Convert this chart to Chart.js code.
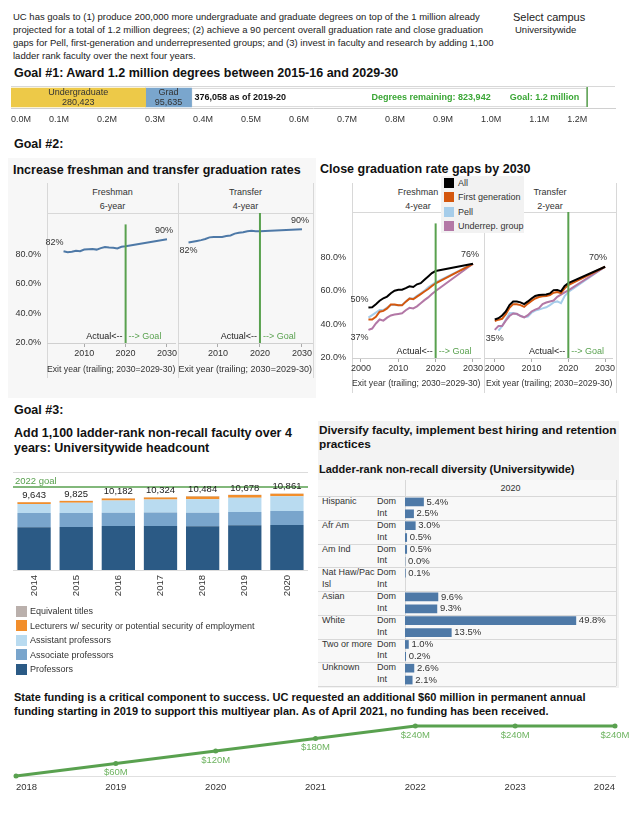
<!DOCTYPE html>
<html>
<head>
<meta charset="utf-8">
<script src="https://cdn.jsdelivr.net/npm/chart.js@4.4.1/dist/chart.umd.min.js"></script>
<style>
  body { margin: 0; background: #fff; font-family: "Liberation Sans", Arial, sans-serif; color: #222; }
  #page { position: relative; width: 632px; height: 822px; overflow: hidden; }
  .t { position: absolute; white-space: nowrap; }
  .h { font-weight: bold; font-size: 12.5px; line-height: 16px; color: #111; }
  .sub { font-weight: bold; font-size: 12.5px; line-height: 15px; color: #111; }
  .s { font-size: 9px; line-height: 12px; color: #333; }
  .c { text-align: center; }
  .ln { position: absolute; background: #d8d8d8; }
  .sw { position: absolute; width: 11px; height: 11px; }
  canvas { position: absolute; }
</style>
</head>
<body>
<div id="page">
  <div style="position:absolute;left:8px;top:158px;width:308px;height:240px;background:#f7f7f7"></div>

  <div class="t" style="left:13px;top:10px;font-size:9.5px;line-height:13px;color:#222">UC has goals to (1) produce 200,000 more undergraduate and graduate degrees on top of the 1 million already<br>projected for a total of 1.2 million degrees; (2) achieve a 90 percent overall graduation rate and close graduation<br>gaps for Pell, first-generation and underrepresented groups; and (3) invest in faculty and research by adding 1,100<br>ladder rank faculty over the next four years.</div>
  <div class="t" style="left:513px;top:10px;font-size:11px;line-height:14px;color:#222">Select campus</div>
  <div class="t" style="left:515px;top:23px;font-size:9.5px;line-height:13px;color:#222">Universitywide</div>

  <div class="t h" style="left:14px;top:65px">Goal #1: Award 1.2 million degrees between 2015-16 and 2029-30</div>
  <canvas id="g1" width="632" height="44" style="left:0;top:85px"></canvas>

  <div class="t h" style="left:14px;top:136px">Goal #2:</div>
  <div class="t sub" style="left:13px;top:163px">Increase freshman and transfer graduation rates</div>
  <div class="t sub" style="left:320px;top:162px">Close graduation rate gaps by 2030</div>

  <!-- left panel frame -->
  <div class="ln" style="left:47px;top:183px;width:1px;height:195px"></div>
  <div class="ln" style="left:178px;top:183px;width:1px;height:195px"></div>
  <div class="ln" style="left:313px;top:183px;width:1px;height:195px"></div>
  <div class="ln" style="left:47px;top:213px;width:267px;height:1px"></div>
  <div class="t s c" style="left:47px;top:186px;width:131px">Freshman</div>
  <div class="t s c" style="left:47px;top:200px;width:131px">6-year</div>
  <div class="t s c" style="left:178px;top:186px;width:135px">Transfer</div>
  <div class="t s c" style="left:178px;top:200px;width:135px">4-year</div>
  <canvas id="fr6" width="170" height="167" style="left:8px;top:213px"></canvas>
  <canvas id="tr4" width="135" height="167" style="left:178px;top:213px"></canvas>

  <!-- right panel frame -->
  <div class="ln" style="left:352px;top:183px;width:1px;height:210px"></div>
  <div class="ln" style="left:484px;top:183px;width:1px;height:210px"></div>
  <div class="ln" style="left:616px;top:183px;width:1px;height:210px"></div>
  <div class="ln" style="left:352px;top:212px;width:265px;height:1px"></div>
  <div class="t s c" style="left:352px;top:186px;width:132px">Freshman</div>
  <div class="t s c" style="left:352px;top:200px;width:132px">4-year</div>
  <div class="t s c" style="left:484px;top:186px;width:132px">Transfer</div>
  <div class="t s c" style="left:484px;top:200px;width:132px">2-year</div>
  <canvas id="fr4" width="168" height="181" style="left:316px;top:212px"></canvas>
  <canvas id="tr2" width="132" height="181" style="left:484px;top:212px"></canvas>
  <div id="gapLegend" style="position:absolute;left:441px;top:176px;width:83px;height:57px;background:#f2f2f2"></div>

  <div class="t h" style="left:14px;top:402px">Goal #3:</div>
  <div class="t sub" style="left:14px;top:426px">Add 1,100 ladder-rank non-recall faculty over 4<br>years: Universitywide headcount</div>
  <canvas id="fac" width="295" height="135" style="left:13px;top:472px"></canvas>
  <div id="facLegend"></div>

  <div style="position:absolute;left:318px;top:421px;width:301px;height:267px;background:#f3f3f3"></div>
  <div class="t" style="left:319px;top:424px;font-weight:bold;font-size:11.8px;line-height:13.5px;color:#111">Diversify faculty, implement best hiring and retention<br>practices</div>
  <div class="t" style="left:319px;top:462px;font-weight:bold;font-size:11px;line-height:14px;color:#111">Ladder-rank non-recall diversity (Universitywide)</div>
  <div style="position:absolute;left:318px;top:480px;width:298px;height:206px;background:#f8f8f8"></div>
  <div class="ln" style="left:405px;top:480px;width:1px;height:206px"></div>
  <div class="ln" style="left:616px;top:480px;width:1px;height:206px"></div>
  <div class="t s c" style="left:405px;top:482px;width:211px">2020</div>
  <div id="divRows"></div>
  <canvas id="div" width="211" height="190" style="left:405px;top:496px"></canvas>

  <div class="t" style="left:14px;top:690px;font-weight:bold;font-size:11px;line-height:14px;color:#111">State funding is a critical component to success. UC requested an additional $60 million in permanent annual<br>funding starting in 2019 to support this multiyear plan. As of April 2021, no funding has been received.</div>
  <canvas id="fund" width="632" height="82" style="left:0;top:718px"></canvas>
</div>

<script>
// ---- Goal 1: degrees
const degreeTypes = ["Undergraduate", "Grad"];
const degreeValues = [280423, 95635];
const degreesGoal = 1200000;
const degreeTicks = [0, 100000, 200000, 300000, 400000, 500000, 600000, 700000, 800000, 900000, 1000000, 1100000, 1200000];

// ---- Goal 2: graduation rates (exit year, percent)
const fr6Years = [2005, 2006, 2007, 2008, 2009, 2010, 2011, 2012, 2013, 2014, 2015, 2016, 2017, 2018, 2019, 2020, 2030];
const fr6Rate = [81.9, 81.2, 81.6, 82.2, 81.9, 83.0, 83.3, 83.4, 83.0, 84.0, 84.8, 84.4, 84.2, 83.8, 84.9, 85.3, 90];
const tr4Years = [2003, 2004, 2005, 2006, 2007, 2008, 2009, 2010, 2011, 2012, 2013, 2014, 2015, 2016, 2017, 2018, 2019, 2020, 2030];
const tr4Rate = [81.8, 82.3, 82.8, 83.3, 84.0, 85.0, 85.3, 85.3, 85.3, 85.8, 86.2, 87.3, 87.8, 88.2, 88.8, 89.0, 88.7, 88.7, 90];

const fr4Years = [2002, 2003, 2004, 2005, 2006, 2007, 2008, 2009, 2010, 2011, 2012, 2013, 2014, 2015, 2016, 2017, 2018, 2019, 2020, 2030];
const fr4All = [50, 50.2, 52, 54, 55.5, 56.5, 58.5, 60, 60.6, 60.6, 61.5, 62.6, 62.2, 63.8, 64.5, 66.5, 68.5, 70.5, 71.7, 76];
const fr4FirstGen = [42.9, 42.9, 44.5, 47.5, 48.0, 49.5, 51.8, 51.8, 51.3, 51.3, 53.5, 55.3, 54.9, 56.5, 58.0, 59.5, 61, 62.8, 64.4, 76];
const fr4Pell = [44.0, 45.5, 47, 48.5, 48.5, 50, 51.5, 51.5, 51.3, 51.5, 53.5, 55.5, 55.3, 57, 58.5, 60, 62, 63.5, 65, 76];
const fr4Urg = [36.7, 37.5, 40.5, 42.9, 42.2, 44.0, 45.3, 45.8, 46.2, 46.6, 48.4, 49.8, 49.5, 50.7, 52.6, 54.4, 56, 58, 59.8, 76];

const tr2Years = [2000, 2001, 2002, 2003, 2004, 2005, 2006, 2007, 2008, 2009, 2010, 2011, 2012, 2013, 2014, 2015, 2016, 2017, 2018, 2019, 2020, 2030];
const tr2All = [41.1, 41.8, 43.3, 45.5, 49, 51, 51, 50.5, 49.5, 51, 52.6, 54, 54.5, 54.7, 54.8, 55.4, 57.2, 57.3, 56.5, 59.5, 61, 70];
const tr2FirstGen = [40.3, 41, 41.5, 44, 47.5, 49.5, 49.5, 49, 48, 49.8, 51.3, 52.6, 53.4, 53.8, 54, 54.5, 55.8, 56.2, 55.6, 58.2, 60, 70];
const tr2Urg = [35.4, 37.5, 37.5, 40.5, 43, 44.4, 44.2, 43, 42.3, 43.5, 45.5, 46.5, 47.3, 49.5, 50.4, 51, 51.5, 53.5, 54.7, 56, 57.1, 70];
const tr2PellYears = [2001, 2002, 2003, 2004, 2005, 2006, 2007, 2008, 2009, 2010, 2011, 2012, 2013, 2014, 2015, 2016, 2017, 2018, 2019, 2020, 2030];
const tr2Pell = [35, 37.5, 41, 44.5, 44.6, 44, 43.2, 42.3, 42.7, 44.8, 46, 46.5, 47.2, 47.8, 49, 50.5, 51, 50, 54, 56.2, 70];

const gapGroups = ["All", "First generation", "Pell", "Underrep. group"];
const rateTicks = [20, 40, 60, 80];
const yearTicks = [2010, 2020, 2030];
const yearTicksWide = [2000, 2010, 2020, 2030];
const goalYear = 2020;

// ---- Goal 3: faculty headcount
const facultyYears = ["2014", "2015", "2016", "2017", "2018", "2019", "2020"];
const professors = [6050, 6100, 6250, 6230, 6200, 6340, 6380];
const associateProfs = [2050, 1980, 1880, 1930, 1920, 1880, 2000];
const assistantProfs = [1270, 1460, 1730, 1830, 1900, 2030, 2070];
const lecturers = [230, 240, 280, 290, 420, 380, 360];
const equivalentTitles = [43, 45, 42, 44, 44, 48, 51];
const facultyGoal = 11770;

const ethnicGroups = ["Hispanic", "Afr Am", "Am Ind", "Nat Haw/Pac Isl", "Asian", "White", "Two or more", "Unknown"];
const domPct = [5.4, 3.0, 0.5, 0.1, 9.6, 49.8, 1.0, 2.6];
const intPct = [2.5, 0.5, 0.0, null, 9.3, 13.5, 0.2, 2.1];

// ---- State funding
const fundYears = ["2018", "2019", "2020", "2021", "2022", "2023", "2024"];
const fundValues = [0, 60, 120, 180, 240, 240, 240];

Chart.defaults.font.family = '"Liberation Sans", Arial, sans-serif';
Chart.defaults.font.size = 9;
Chart.defaults.color = "#333";
Chart.defaults.animation = false;
Chart.defaults.events = [];
Chart.defaults.plugins.legend.display = false;
Chart.defaults.plugins.tooltip.enabled = false;

const GREEN = "#59a14f";
const FONT = '"Liberation Sans", Arial, sans-serif';

// ---------- Goal 1
const degreesSoFar = degreeValues[0] + degreeValues[1];
const g1Labels = {
	id: "g1Labels",
	afterDatasetsDraw(chart) {
		const ctx = chart.ctx;
		const x = chart.scales.x;
		const ca = chart.chartArea;
		const bar = chart.getDatasetMeta(0).data[0];
		const cy = bar.y;
		ctx.save();
		ctx.textBaseline = "middle";
		ctx.textAlign = "center";
		ctx.font = "9px " + FONT;
		ctx.fillStyle = "#333";
		let start = 0;
		degreeValues.forEach((v, i) => {
			const cx = (x.getPixelForValue(start) + x.getPixelForValue(start + v)) / 2;
			ctx.fillText(degreeTypes[i], cx, cy - 4.5);
			ctx.fillText(v.toLocaleString("en-US"), cx, cy + 5);
			start += v;
		});
		ctx.textAlign = "left";
		ctx.font = "bold 9px " + FONT;
		ctx.fillStyle = "#111";
		ctx.fillText(degreesSoFar.toLocaleString("en-US") + " as of 2019-20", x.getPixelForValue(degreesSoFar) + 3, cy);
		const gx = x.getPixelForValue(degreesGoal);
		ctx.strokeStyle = GREEN;
		ctx.lineWidth = 1.5;
		ctx.beginPath();
		ctx.moveTo(gx, ca.top - 1);
		ctx.lineTo(gx, ca.bottom - 1);
		ctx.stroke();
		ctx.fillStyle = "#3aa635";
		ctx.textAlign = "right";
		const goalText = "Goal: 1.2 million";
		ctx.fillText(goalText, gx - 8, cy);
		const w = ctx.measureText(goalText).width;
		ctx.fillText("Degrees remaining: " + (degreesGoal - degreesSoFar).toLocaleString("en-US"), gx - 8 - w - 19, cy);
		// frame top
		ctx.strokeStyle = "#d8d8d8";
		ctx.lineWidth = 1;
		ctx.beginPath();
		ctx.moveTo(ca.left, ca.top - 0.5);
		ctx.lineTo(ca.right, ca.top - 0.5);
		ctx.stroke();
		ctx.restore();
	},
};

new Chart(document.getElementById("g1"), {
	type: "bar",
	data: {
		labels: ["Degrees"],
		datasets: [
			{ label: degreeTypes[0], data: [degreeValues[0]], backgroundColor: "#edc948" },
			{ label: degreeTypes[1], data: [degreeValues[1]], backgroundColor: "#7aa6cd" },
			{ label: "Remaining", data: [degreesGoal - degreesSoFar], backgroundColor: "#ffffff", borderColor: "#d0d0d0", borderWidth: 1, borderSkipped: false },
		],
	},
	options: {
		responsive: false,
		indexAxis: "y",
		layout: { padding: { left: 11, right: 17, top: 2, bottom: 0 }, autoPadding: false },
		datasets: { bar: { barThickness: 19, categoryPercentage: 1, barPercentage: 1 } },
		scales: {
			x: {
				stacked: true,
				min: 0,
				max: 1258000,
				afterBuildTicks: (s) => { s.ticks = degreeTicks.map((v) => ({ value: v })); },
				afterFit: (s) => { s.height = 21; },
				grid: { display: false, drawTicks: false },
				border: { color: "#d0d0d0" },
				ticks: {
					align: "inner",
					padding: 6,
					maxRotation: 0,
					autoSkip: false,
					callback: (v) => (v / 1000000).toFixed(1) + "M",
				},
			},
			y: { stacked: true, display: false },
		},
	},
	plugins: [g1Labels],
});

// ---------- Goal 2 line panels
const pts = (years, vals) => years.map((y, i) => ({ x: y, y: vals[i] }));

const panelDeco = {
	id: "panelDeco",
	afterDatasetsDraw(chart, args, o) {
		const ctx = chart.ctx;
		const ca = chart.chartArea;
		const gx = chart.scales.x.getPixelForValue(goalYear);
		ctx.save();
		ctx.strokeStyle = GREEN;
		ctx.lineWidth = 2;
		ctx.beginPath();
		ctx.moveTo(gx, ca.top);
		ctx.lineTo(gx, ca.bottom);
		ctx.stroke();
		ctx.font = "9px " + FONT;
		ctx.textBaseline = "middle";
		ctx.textAlign = "right";
		ctx.fillStyle = "#222";
		ctx.fillText("Actual<--", gx - 3, ca.bottom - 6);
		ctx.textAlign = "left";
		ctx.fillStyle = GREEN;
		ctx.fillText("--> Goal", gx + 3, ca.bottom - 6);
		ctx.fillStyle = "#333";
		(o.items || []).forEach((it) => {
			const ds = chart.data.datasets[it.ds];
			const idx = it.i < 0 ? ds.data.length - 1 : it.i;
			const p = chart.getDatasetMeta(it.ds).data[idx];
			ctx.textAlign = it.align || "center";
			ctx.fillText(Math.round(ds.data[idx].y) + "%", p.x + (it.dx || 0), p.y + (it.dy || 0));
		});
		ctx.restore();
	},
};

function linePanel(id, datasets, cfg) {
	return new Chart(document.getElementById(id), {
		type: "line",
		data: { datasets: datasets },
		options: {
			responsive: false,
			layout: { padding: 0, autoPadding: false },
			elements: { point: { radius: 0 }, line: { borderWidth: 2, tension: 0 } },
			scales: {
				x: {
					type: "linear",
					min: cfg.xmin,
					max: cfg.xmax,
					afterBuildTicks: (s) => { s.ticks = cfg.xticks.map((v) => ({ value: v })); },
					afterFit: (s) => { s.height = cfg.xh; },
					grid: { drawOnChartArea: false, drawTicks: true, tickLength: 4, color: "#aaa" },
					border: { color: "#d0d0d0" },
					ticks: { padding: 1, maxRotation: 0, autoSkip: false, callback: (v) => String(v) },
					title: { display: true, text: "Exit year (trailing; 2030=2029-30)", font: { size: 9 }, color: "#333", padding: { top: 0, bottom: cfg.tpad } },
				},
				y: {
					display: cfg.showY,
					min: 20,
					max: 100,
					afterBuildTicks: (s) => { s.ticks = rateTicks.map((v) => ({ value: v })); },
					afterFit: (s) => { s.width = cfg.yw || 0; },
					grid: { display: false, drawTicks: false },
					border: { display: false },
					ticks: { padding: 6, callback: (v) => v.toFixed(1) + "%" },
				},
			},
			plugins: { panelDeco: { items: cfg.items } },
		},
		plugins: [panelDeco],
	});
}

linePanel("fr6", [{ data: pts(fr6Years, fr6Rate), borderColor: "#4e79a7" }], {
	xmin: 2001, xmax: 2032, xticks: yearTicks, xh: 37, tpad: 5, showY: true, yw: 39,
	items: [{ ds: 0, i: 0, dx: 0, dy: -9, align: "right" }, { ds: 0, i: -1, dx: -3, dy: -9 }],
});
linePanel("tr4", [{ data: pts(tr4Years, tr4Rate), borderColor: "#4e79a7" }], {
	xmin: 2000.5, xmax: 2032.5, xticks: yearTicks, xh: 37, tpad: 5, showY: false,
	items: [{ ds: 0, i: 0, dx: 0, dy: 8 }, { ds: 0, i: -1, dx: -2, dy: -9 }],
});

const gapColors = ["#000000", "#d4570e", "#a6cdea", "#b378a6"];
function gapSets(all, fg, pell, urg, pellYears, years) {
	return [
		{ data: pts(years, all), borderColor: gapColors[0], order: 0 },
		{ data: pts(years, fg), borderColor: gapColors[1], order: 1 },
		{ data: pts(pellYears, pell), borderColor: gapColors[2], order: 3 },
		{ data: pts(years, urg), borderColor: gapColors[3], order: 2 },
	];
}
linePanel("fr4", gapSets(fr4All, fr4FirstGen, fr4Pell, fr4Urg, fr4Years, fr4Years), {
	xmin: 1997.6, xmax: 2032, xticks: yearTicksWide, xh: 35, tpad: 4, showY: true, yw: 36,
	items: [{ ds: 0, i: 0, dx: 0, dy: -8, align: "right" }, { ds: 3, i: 0, dx: 0, dy: 8, align: "right" }, { ds: 0, i: -1, dx: -3, dy: -9 }],
});
linePanel("tr2", gapSets(tr2All, tr2FirstGen, tr2Pell, tr2Urg, tr2PellYears, tr2Years), {
	xmin: 1997.6, xmax: 2032, xticks: yearTicksWide, xh: 35, tpad: 4, showY: false,
	items: [{ ds: 3, i: 0, dx: 0, dy: 9 }, { ds: 0, i: -1, dx: -7, dy: -9 }],
});

// legend for gap charts
const gl = document.getElementById("gapLegend");
gapGroups.forEach((g, i) => {
	gl.insertAdjacentHTML("beforeend",
		'<div class="sw" style="left:3px;top:' + (2 + i * 14.3) + 'px;width:10px;height:10px;background:' + gapColors[i] + '"></div>' +
		'<div class="t s" style="left:17px;top:' + (1 + i * 14.3) + 'px">' + g + "</div>");
});

// ---------- Goal 3 faculty bars
const facSeries = [
	{ label: "Professors", data: professors, color: "#2b5a85" },
	{ label: "Associate professors", data: associateProfs, color: "#79a5cc" },
	{ label: "Assistant professors", data: assistantProfs, color: "#b9dbf0" },
	{ label: "Lecturers w/ security or potential security of employment", data: lecturers, color: "#f28e2b" },
	{ label: "Equivalent titles", data: equivalentTitles, color: "#bab0ac" },
];

const facDeco = {
	id: "facDeco",
	afterDatasetsDraw(chart) {
		const ctx = chart.ctx;
		const ca = chart.chartArea;
		const y = chart.scales.y;
		ctx.save();
		ctx.strokeStyle = "#dcdcdc";
		ctx.lineWidth = 1;
		ctx.beginPath();
		ctx.moveTo(ca.left, ca.top + 0.5);
		ctx.lineTo(ca.right, ca.top + 0.5);
		ctx.stroke();
		const gy = y.getPixelForValue(facultyGoal);
		ctx.strokeStyle = GREEN;
		ctx.lineWidth = 1.5;
		ctx.beginPath();
		ctx.moveTo(ca.left - 2, gy);
		ctx.lineTo(ca.right, gy);
		ctx.stroke();
		ctx.font = "9.5px " + FONT;
		ctx.fillStyle = GREEN;
		ctx.textAlign = "left";
		ctx.textBaseline = "bottom";
		ctx.fillText("2022 goal", ca.left + 2, gy - 1);
		ctx.font = "9.5px " + FONT;
		ctx.fillStyle = "#222";
		ctx.textAlign = "center";
		const top = chart.getDatasetMeta(facSeries.length - 1).data;
		facultyYears.forEach((yr, i) => {
			let total = 0;
			facSeries.forEach((s) => { total += s.data[i]; });
			ctx.fillText(total.toLocaleString("en-US"), top[i].x, y.getPixelForValue(total) - 2);
		});
		ctx.restore();
	},
};

new Chart(document.getElementById("fac"), {
	type: "bar",
	data: {
		labels: facultyYears,
		datasets: facSeries.map((s) => ({ label: s.label, data: s.data, backgroundColor: s.color })),
	},
	options: {
		responsive: false,
		layout: { padding: 0, autoPadding: false },
		datasets: { bar: { categoryPercentage: 1, barPercentage: 0.79 } },
		scales: {
			x: {
				stacked: true,
				afterFit: (s) => { s.height = 37; },
				grid: { display: false, drawTicks: false },
				border: { color: "#dcdcdc" },
				ticks: { minRotation: 90, maxRotation: 90, padding: 5, font: { size: 9.5 } },
			},
			y: { stacked: true, display: false, min: 0, max: 13900 },
		},
	},
	plugins: [facDeco],
});

const fl = document.getElementById("facLegend");
facSeries.slice().reverse().forEach((s, i) => {
	const cy = 611 + i * 14.6;
	fl.insertAdjacentHTML("beforeend",
		'<div class="sw" style="left:16px;top:' + (cy - 5.5) + "px;background:" + s.color + '"></div>' +
		'<div class="t s" style="left:30px;top:' + (cy - 6) + 'px">' + s.label + "</div>");
});

// ---------- Goal 3 diversity table
const divLabels = [];
const divValues = [];
ethnicGroups.forEach((g, i) => {
	divLabels.push(g + " Dom", g + " Int");
	divValues.push(domPct[i], intPct[i]);
});
const rowH = 190 / divLabels.length;
const rows = document.getElementById("divRows");
ethnicGroups.forEach((g, i) => {
	const top = 496 + i * 2 * rowH;
	rows.insertAdjacentHTML("beforeend",
		'<div class="t s" style="left:322px;top:' + top + 'px;width:55px;white-space:normal;line-height:' + rowH + 'px">' + g + "</div>" +
		'<div class="t s" style="left:377px;top:' + top + "px;line-height:" + rowH + 'px">Dom</div>' +
		'<div class="t s" style="left:377px;top:' + (top + rowH) + "px;line-height:" + rowH + 'px">Int</div>' +
		'<div class="ln" style="left:318px;top:' + Math.round(top) + 'px;width:298px;height:1px"></div>');
});
rows.insertAdjacentHTML("beforeend", '<div class="ln" style="left:318px;top:686px;width:298px;height:1px"></div>');

const divDeco = {
	id: "divDeco",
	afterDatasetsDraw(chart) {
		const ctx = chart.ctx;
		const meta = chart.getDatasetMeta(0).data;
		ctx.save();
		ctx.font = "9.5px " + FONT;
		ctx.fillStyle = "#333";
		ctx.textBaseline = "middle";
		ctx.textAlign = "left";
		divValues.forEach((v, i) => {
			if (v === null) return;
			ctx.fillText(v.toFixed(1) + "%", meta[i].x + 3, meta[i].y);
		});
		ctx.restore();
	},
};

new Chart(document.getElementById("div"), {
	type: "bar",
	data: { labels: divLabels, datasets: [{ data: divValues, backgroundColor: "#4e79a7", barThickness: 8 }] },
	options: {
		responsive: false,
		indexAxis: "y",
		layout: { padding: 0, autoPadding: false },
		scales: {
			x: { display: false, min: 0, max: 61.5 },
			y: { display: false },
		},
	},
	plugins: [divDeco],
});

// ---------- State funding
const fundDeco = {
	id: "fundDeco",
	afterDatasetsDraw(chart) {
		const ctx = chart.ctx;
		const meta = chart.getDatasetMeta(0).data;
		ctx.save();
		ctx.font = "9.5px " + FONT;
		ctx.fillStyle = "#6db35f";
		ctx.textAlign = "center";
		ctx.textBaseline = "middle";
		fundValues.forEach((v, i) => {
			if (!v) return;
			ctx.fillText("$" + v + "M", meta[i].x, meta[i].y + 9);
		});
		ctx.restore();
	},
};

new Chart(document.getElementById("fund"), {
	type: "line",
	data: {
		labels: fundYears,
		datasets: [{ data: fundValues, borderColor: GREEN, borderWidth: 3, pointRadius: 2.5, pointBackgroundColor: GREEN, pointBorderWidth: 0, clip: false, tension: 0 }],
	},
	options: {
		responsive: false,
		layout: { padding: { left: 16, right: 17, top: 8, bottom: 0 }, autoPadding: false },
		scales: {
			x: {
				offset: false,
				afterFit: (s) => { s.height = 24; },
				grid: { display: false, drawTicks: false },
				border: { color: "#e0e0e0" },
				ticks: { align: "inner", padding: 6, maxRotation: 0, font: { size: 9.5 } },
			},
			y: { display: false, min: 0, max: 240 },
		},
	},
	plugins: [fundDeco],
});
</script>
</body>
</html>
